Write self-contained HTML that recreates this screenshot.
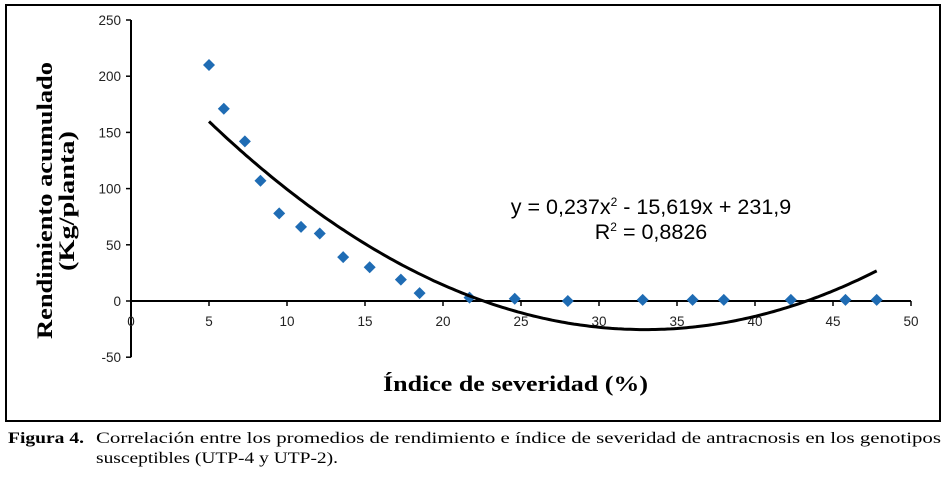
<!DOCTYPE html>
<html><head><meta charset="utf-8"><style>
body{margin:0;background:#fff;width:947px;height:475px;overflow:hidden}
svg text{font-family:"Liberation Sans",sans-serif}
.serif{font-family:"Liberation Serif",serif}
</style></head><body>
<svg width="947" height="475">
<rect x="6" y="5" width="934" height="416" fill="none" stroke="#000" stroke-width="2"/>
<g id="g"></g>
<text x="383" y="391" textLength="265" lengthAdjust="spacingAndGlyphs" class="serif" font-weight="bold" font-size="22">Índice de severidad (%)</text>
<g transform="translate(52,201) rotate(-90)">
<text x="-138" y="0" textLength="277" lengthAdjust="spacingAndGlyphs" class="serif" font-weight="bold" font-size="22">Rendimiento acumulado</text>
<text x="-70" y="22" textLength="140" lengthAdjust="spacingAndGlyphs" class="serif" font-weight="bold" font-size="22">(Kg/planta)</text>
</g>
<text x="651" y="214" text-anchor="middle" font-size="21.5">y = 0,237x<tspan font-size="12" dy="-8">2</tspan><tspan dy="8"> - 15,619x + 231,9</tspan></text>
<text x="651" y="239" text-anchor="middle" font-size="21.5">R<tspan font-size="12" dy="-8">2</tspan><tspan dy="8"> = 0,8826</tspan></text>
<text x="8" y="443" textLength="76" lengthAdjust="spacingAndGlyphs" class="serif" font-weight="bold" font-size="16">Figura 4.</text>
<text x="96" y="443" textLength="845" lengthAdjust="spacingAndGlyphs" class="serif" font-size="16">Correlación entre los promedios de rendimiento e índice de severidad de antracnosis en los genotipos</text>
<text x="96" y="463" textLength="242" lengthAdjust="spacingAndGlyphs" class="serif" font-size="16">susceptibles (UTP-4 y UTP-2).</text>
</svg>
<script>
const xTicks=[0,5,10,15,20,25,30,35,40,45,50];
const yTicks=[-50,0,50,100,150,200,250];
const xs=[5,5.95,7.3,8.3,9.5,10.9,12.1,13.6,15.3,17.3,18.5,21.7,24.6,28,32.8,36,38,42.3,45.8,47.8];
const ys=[210,171,142,107,78,66,60,39,30,19,7,3,2,0,1,1,1,1,1,1];
const coef=[0.237,-15.619,231.9];
const X=v=>131+v*15.6, Y=v=>301-v*1.124;
const g=document.getElementById('g'),NS='http://www.w3.org/2000/svg';
function mk(t,a){const e=document.createElementNS(NS,t);for(const k in a)e.setAttribute(k,a[k]);g.appendChild(e);return e;}
let e=mk('line',{x1:131,x2:131,y1:Y(250),y2:Y(-50),stroke:'#000','stroke-width':2});


e=mk('line',{x1:131,x2:X(50),y1:Y(0),y2:Y(0),stroke:'#000','stroke-width':2});


yTicks.forEach(v=>{mk('line',{x1:126,x2:131,y1:Y(v),y2:Y(v),stroke:'#000','stroke-width':1.5});
const t=mk('text',{x:121,y:Y(v)+5,'text-anchor':'end','font-size':13.5,fill:'#222'});t.textContent=v;

});
xTicks.forEach(v=>{mk('line',{x1:X(v),x2:X(v),y1:Y(0),y2:Y(0)+5,stroke:'#000','stroke-width':1.5});
const t=mk('text',{x:X(v),y:Y(0)+25,'text-anchor':'middle','font-size':13.5,fill:'#222'});t.textContent=v;

});
xs.forEach((x,i)=>{const cx=X(x),cy=Y(ys[i]);
const p=mk('polygon',{points:`${cx},${cy-6} ${cx+6},${cy} ${cx},${cy+6} ${cx-6},${cy}`,fill:'#1f6cb4'});

});
let d='';for(let x=xs[0];x<=xs[xs.length-1]+0.001;x+=0.2){const y=coef[0]*x*x+coef[1]*x+coef[2];d+=(d?'L':'M')+X(x).toFixed(1)+','+Y(y).toFixed(1);}
const c=mk('path',{d:d,fill:'none',stroke:'#000','stroke-width':3});


</script>
</body></html>
